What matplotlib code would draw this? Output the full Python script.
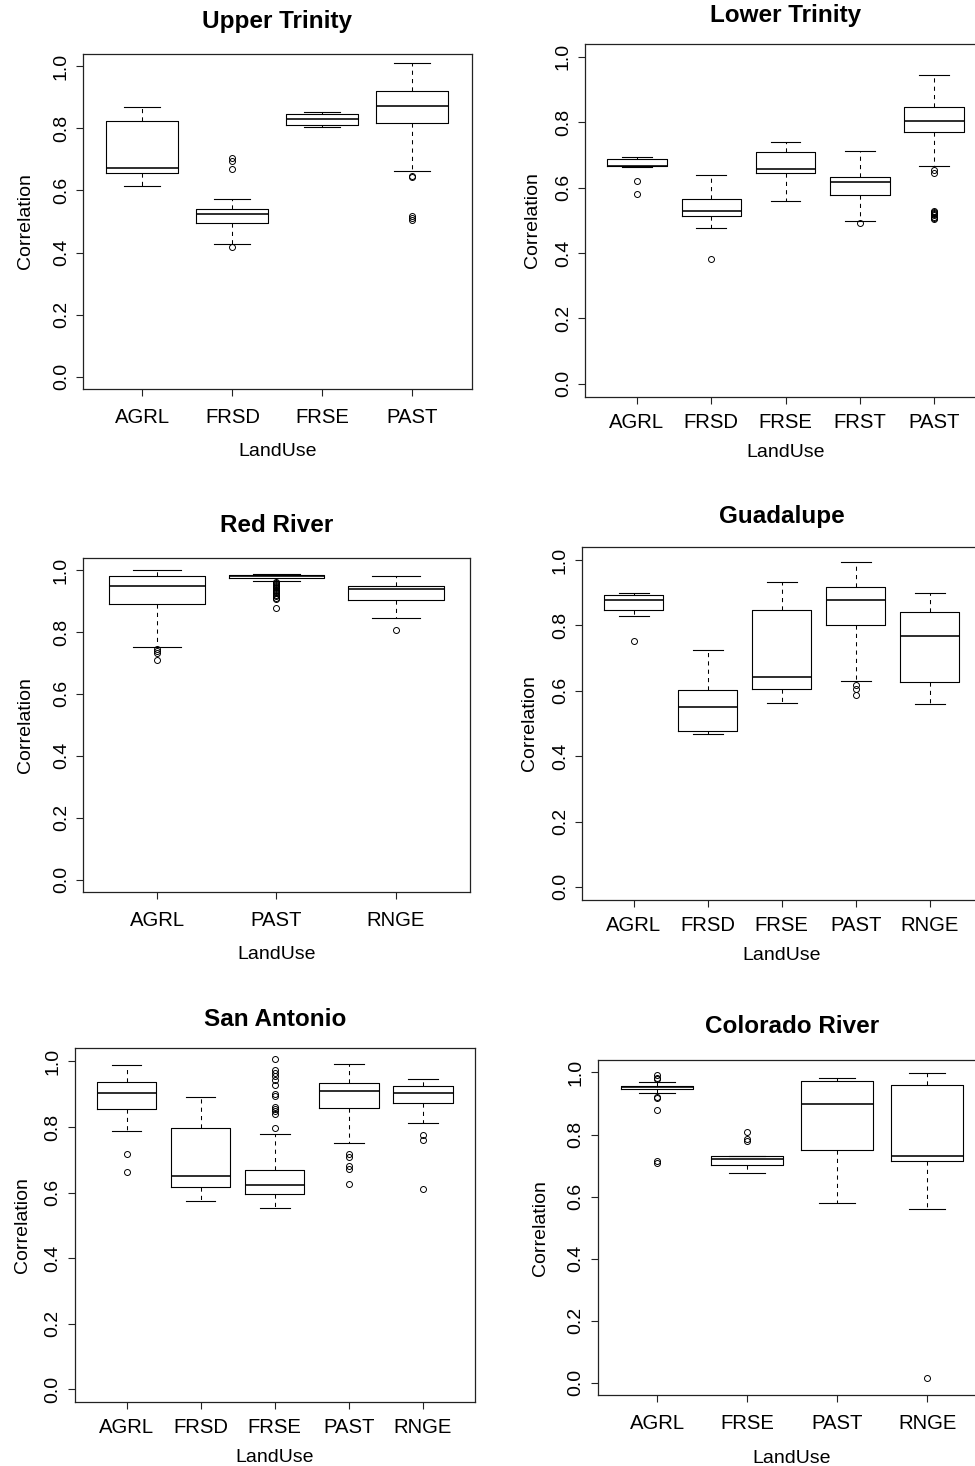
import matplotlib
matplotlib.use("Agg")
import matplotlib.pyplot as plt

plt.rcParams['font.family'] = ['Liberation Sans', 'DejaVu Sans']

# ---------------- data (box statistics) ----------------
# each panel: categories, whislo, q1, med, q3, whishi, fliers
ut_cats = ["AGRL", "FRSD", "FRSE", "PAST"]
ut_whislo = [0.613, 0.427, 0.804, 0.664]
ut_q1 = [0.657, 0.494, 0.810, 0.818]
ut_med = [0.673, 0.525, 0.832, 0.871]
ut_q3 = [0.823, 0.541, 0.847, 0.920]
ut_whishi = [0.870, 0.573, 0.853, 1.011]
ut_fliers = [[], [0.705, 0.694, 0.669, 0.418], [], [0.648, 0.643, 0.518, 0.512, 0.506]]

lt_cats = ["AGRL", "FRSD", "FRSE", "FRST", "PAST"]
lt_whislo = [0.664, 0.478, 0.560, 0.498, 0.665]
lt_q1 = [0.666, 0.513, 0.644, 0.577, 0.769]
lt_med = [0.667, 0.530, 0.658, 0.617, 0.804]
lt_q3 = [0.688, 0.566, 0.708, 0.633, 0.845]
lt_whishi = [0.693, 0.640, 0.741, 0.712, 0.943]
lt_fliers = [[0.621, 0.582], [0.383], [], [0.493],
             [0.653, 0.645, 0.530, 0.527, 0.523, 0.519, 0.515, 0.511, 0.507, 0.503]]

rr_cats = ["AGRL", "PAST", "RNGE"]
rr_whislo = [0.750, 0.964, 0.844]
rr_q1 = [0.890, 0.974, 0.904]
rr_med = [0.950, 0.980, 0.939]
rr_q3 = [0.980, 0.983, 0.947]
rr_whishi = [1.000, 0.986, 0.981]
rr_fliers = [[0.745, 0.737, 0.732, 0.710],
             [0.962, 0.958, 0.955, 0.951, 0.948, 0.944, 0.941, 0.937, 0.934,
              0.930, 0.926, 0.921, 0.916, 0.911, 0.906, 0.877],
             [0.808]]

gu_cats = ["AGRL", "FRSD", "FRSE", "PAST", "RNGE"]
gu_whislo = [0.829, 0.469, 0.564, 0.630, 0.561]
gu_q1 = [0.846, 0.476, 0.606, 0.801, 0.627]
gu_med = [0.877, 0.551, 0.642, 0.878, 0.769]
gu_q3 = [0.892, 0.601, 0.846, 0.917, 0.842]
gu_whishi = [0.899, 0.724, 0.932, 0.994, 0.899]
gu_fliers = [[0.752], [], [], [0.618, 0.607, 0.587], []]

sa_cats = ["AGRL", "FRSD", "FRSE", "PAST", "RNGE"]
sa_whislo = [0.789, 0.573, 0.554, 0.750, 0.813]
sa_q1 = [0.856, 0.617, 0.597, 0.858, 0.873]
sa_med = [0.905, 0.649, 0.624, 0.909, 0.905]
sa_q3 = [0.938, 0.798, 0.670, 0.935, 0.924]
sa_whishi = [0.988, 0.892, 0.778, 0.991, 0.946]
sa_fliers = [[0.717, 0.663], [],
             [1.007, 0.975, 0.964, 0.954, 0.944, 0.927, 0.902, 0.893, 0.862,
              0.856, 0.848, 0.839, 0.796],
             [0.717, 0.709, 0.680, 0.672, 0.626],
             [0.777, 0.759, 0.612]]

co_cats = ["AGRL", "FRSE", "PAST", "RNGE"]
co_whislo = [0.933, 0.677, 0.581, 0.561]
co_q1 = [0.945, 0.701, 0.750, 0.714]
co_med = [0.952, 0.722, 0.899, 0.730]
co_q3 = [0.957, 0.730, 0.973, 0.959]
co_whishi = [0.970, 0.731, 0.983, 0.997]
co_fliers = [[0.991, 0.983, 0.979, 0.922, 0.917, 0.879, 0.714, 0.709],
             [0.809, 0.784, 0.778], [], [0.015]]

titles = ["Upper Trinity", "Lower Trinity", "Red River", "Guadalupe",
          "San Antonio", "Colorado River"]
panels = [
    (ut_cats, ut_whislo, ut_q1, ut_med, ut_q3, ut_whishi, ut_fliers),
    (lt_cats, lt_whislo, lt_q1, lt_med, lt_q3, lt_whishi, lt_fliers),
    (rr_cats, rr_whislo, rr_q1, rr_med, rr_q3, rr_whishi, rr_fliers),
    (gu_cats, gu_whislo, gu_q1, gu_med, gu_q3, gu_whishi, gu_fliers),
    (sa_cats, sa_whislo, sa_q1, sa_med, sa_q3, sa_whishi, sa_fliers),
    (co_cats, co_whislo, co_q1, co_med, co_q3, co_whishi, co_fliers),
]

# ---------------- layout (pixels) ----------------
W, H = 975, 1466
PT = 100 / 72.0
# left, top, bottom, px per category
geom = [
    (83.0, 54.0, 389.0, 90.0),
    (585.0, 43.7, 397.0, 74.3),
    (83.0, 557.7, 892.0, 119.4),
    (582.0, 547.0, 900.0, 74.0),
    (74.7, 1048.3, 1402.3, 74.1),
    (597.7, 1060.0, 1395.3, 90.0),
]
title_gap = [25.7, 22.0, 26.0, 23.7, 22.3, 26.7]
xtick_base_gap = [33.7, 30.7, 33.7, 30.7, 30.0, 33.0]
xlabel_base_gap = [68.0, 61.0, 68.0, 61.0, 61.0, 68.5]
ylabel_right = [34.0, 540.7, 34.0, 538.3, 31.3, 549.0]

fig = plt.figure(figsize=(W / 100, H / 100), dpi=100)
fig.patch.set_facecolor("white")

FS = 14
XFS = 14.6
for i, (cats, wlo, q1, med, q3, whi, fl) in enumerate(panels):
    left, top, bottom, step = geom[i]
    n = len(cats)
    xr = n + 0.08 * n
    width = xr * step
    height = bottom - top
    ax = fig.add_axes([left / W, 1 - bottom / H, width / W, height / H])
    stats = []
    for k in range(n):
        stats.append(dict(whislo=wlo[k], q1=q1[k], med=med[k], q3=q3[k],
                          whishi=whi[k], fliers=fl[k], label=cats[k]))
    ax.bxp(stats, positions=range(1, n + 1), widths=0.8, capwidths=0.4,
           showfliers=True,
           boxprops=dict(color="black", linewidth=0.8),
           medianprops=dict(color="black", linewidth=1.15),
           whiskerprops=dict(color="black", linewidth=0.75, linestyle=(0, (4, 4))),
           capprops=dict(color="black", linewidth=0.8),
           flierprops=dict(marker="o", markerfacecolor="none",
                           markeredgecolor="black", markersize=4.3,
                           markeredgewidth=0.7, linestyle="none"))
    ax.set_xlim(0.5 - 0.04 * n, n + 0.5 + 0.04 * n)
    ax.set_ylim(-0.04, 1.04)
    ax.set_yticks([0.0, 0.2, 0.4, 0.6, 0.8, 1.0])
    ax.set_yticklabels(["0.0", "0.2", "0.4", "0.6", "0.8", "1.0"])
    ax.set_xticks(range(1, n + 1))
    ax.set_xticklabels(cats)
    for s in ax.spines.values():
        s.set_color("#222222")
        s.set_linewidth(0.9)
    xpad = (xtick_base_gap[i] - 14.5 - 7.0) / PT
    ax.tick_params(axis="x", length=5, width=0.8, pad=xpad, labelsize=XFS,
                   color="#222222")
    ax.tick_params(axis="y", length=5, width=0.8, pad=4.5, labelsize=14,
                   color="#222222")
    for lab in ax.get_yticklabels():
        lab.set_rotation(90)
        lab.set_va("center")
        lab.set_ha("right")
        lab.set_rotation_mode("default")
    ax.set_title(titles[i], fontsize=17.5, fontweight="bold",
                 pad=title_gap[i] / PT)
    ax.set_xlabel("LandUse", fontsize=FS)
    ax.xaxis.set_label_coords(0.5, -(xlabel_base_gap[i] - 14.0) / height)
    ax.set_ylabel("Correlation", fontsize=FS)
    ax.yaxis.set_label_coords((ylabel_right[i] - left) / width, 0.5)

fig.savefig("out.png", dpi=100, facecolor="white")
